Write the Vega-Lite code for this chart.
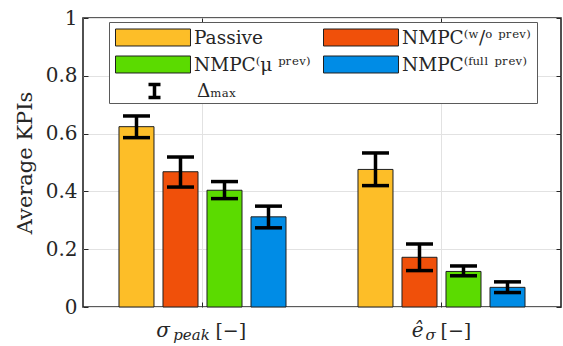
{
  "$schema": "https://vega.github.io/schema/vega-lite/v6.json",
  "width": 478,
  "height": 289,
  "autosize": {"type": "none"},
  "padding": {"left": 83, "top": 18, "right": 2, "bottom": 39},
  "config": {
    "font": "DejaVu Serif",
    "view": {"stroke": "#262626", "strokeWidth": 1.6},
    "axis": {
      "labelFont": "DejaVu Serif",
      "titleFont": "DejaVu Serif",
      "labelColor": "#262626",
      "titleColor": "#262626",
      "tickColor": "#262626",
      "domain": false,
      "gridColor": "#e2e2e2",
      "gridWidth": 1
    },
    "legend": {
      "labelFont": "DejaVu Serif",
      "titleFont": "DejaVu Serif",
      "labelColor": "#262626"
    }
  },
  "datasets": {
    "kpi": [
      {"metric": "sp", "series": "Passive", "value": 0.624, "lo": 0.586, "hi": 0.661},
      {"metric": "sp", "series": "wo", "value": 0.468, "lo": 0.415, "hi": 0.519},
      {"metric": "sp", "series": "mu", "value": 0.404, "lo": 0.375, "hi": 0.434},
      {"metric": "sp", "series": "full", "value": 0.312, "lo": 0.274, "hi": 0.349},
      {"metric": "es", "series": "Passive", "value": 0.476, "lo": 0.42, "hi": 0.533},
      {"metric": "es", "series": "wo", "value": 0.172, "lo": 0.126, "hi": 0.218},
      {"metric": "es", "series": "mu", "value": 0.123, "lo": 0.108, "hi": 0.142},
      {"metric": "es", "series": "full", "value": 0.068, "lo": 0.05, "hi": 0.087}
    ]
  },
  "data": {"name": "kpi"},
  "layer": [
    {
      "mark": {"type": "bar", "stroke": "#1f1f1f", "strokeWidth": 1},
      "encoding": {
        "x": {
          "field": "metric", "type": "nominal", "sort": ["sp", "es"],
          "scale": {"paddingInner": 0, "paddingOuter": 0},
          "axis": {
            "orient": "bottom", "title": null, "ticks": false, "grid": true, "bandPosition": 0.5,
            "labelAngle": 0, "labelExpr": "datum.value === 'sp' ? 'σ\u2800' : 'ê'",
            "labelFontStyle": "italic", "labelFontSize": 20, "labelBaseline": "alphabetic",
            "labelAlign": "right", "labelOffset": -18, "labelPadding": 29
          }
        },
        "xOffset": {
          "field": "series", "type": "nominal", "sort": ["Passive", "wo", "mu", "full"],
          "scale": {"paddingInner": 0.2045, "paddingOuter": 0.818}
        },
        "y": {
          "field": "value", "type": "quantitative",
          "scale": {"domain": [0, 1], "nice": false},
          "axis": {
            "title": "Average KPIs", "titleFontSize": 21, "titleFontWeight": "normal", "titlePadding": 10,
            "values": [0, 0.2, 0.4, 0.6, 0.8, 1], "format": "~g",
            "labelFontSize": 20, "tickSize": -5, "labelPadding": 11, "grid": true
          }
        },
        "fill": {
          "field": "series", "type": "nominal",
          "scale": {
            "domain": ["Passive", "wo", "mu", "full"],
            "range": ["#fdbe28", "#f0500a", "#5bdb00", "#008ce6"]
          },
          "legend": {
            "orient": "none", "legendX": 26, "legendY": 4, "columns": 2, "direction": "horizontal",
            "title": "\u00a0", "titleOrient": "bottom", "titleFontSize": 19, "titlePadding": 3,
            "labelExpr": "datum.value === 'wo' ? 'NMPC⁽ʷ/ᵒ ᵖʳᵉᵛ⁾' : datum.value === 'mu' ? 'NMPC⁽μ ᵖʳᵉᵛ⁾' : datum.value === 'full' ? 'NMPC⁽ᶠᵘˡˡ ᵖʳᵉᵛ⁾' : 'Passive'",
            "labelFontSize": 18.5,
            "symbolType": "M-1,-0.944H7.333V0.944H-1Z", "symbolSize": 324,
            "symbolStrokeColor": "#1f1f1f", "symbolStrokeWidth": 1,
            "labelOffset": 60, "columnPadding": 10, "rowPadding": 6, "padding": 6,
            "strokeColor": "#5a5a5a", "fillColor": "white"
          }
        }
      }
    },
    {
      "mark": {"type": "rule", "color": "#000000", "strokeWidth": 3.5},
      "encoding": {
        "x": {
          "field": "metric", "type": "nominal", "sort": ["sp", "es"],
          "axis": {
            "orient": "bottom", "title": null, "ticks": false, "grid": false,
            "labelAngle": 0, "labelExpr": "datum.value === 'sp' ? 'peak' : 'σ'",
            "labelFontStyle": "italic", "labelFontSize": 15, "labelBaseline": "alphabetic",
            "labelAlign": "center", "labelOffset": -11, "labelPadding": 32
          }
        },
        "xOffset": {"field": "series", "type": "nominal", "sort": ["Passive", "wo", "mu", "full"]},
        "y": {
          "field": "lo", "type": "quantitative",
          "axis": {"orient": "right", "title": null, "labels": false, "grid": false, "tickSize": -5, "values": [0, 0.2, 0.4, 0.6, 0.8, 1]}
        },
        "y2": {"field": "hi"},
        "stroke": {
          "datum": "dmax", "type": "nominal",
          "scale": {"domain": ["dmax"], "range": ["#000000"]},
          "legend": {
            "orient": "none", "legendX": 26, "legendY": 56, "title": null,
            "labelExpr": "'Δₘₐₓ'", "labelFontSize": 18.5,
            "symbolType": "M2.5,-0.722H3.833M3.167,-0.722V0.722M2.5,0.722H3.833", "symbolSize": 324,
            "symbolStrokeWidth": 3.5,
            "labelOffset": 60, "padding": 6
          }
        }
      }
    },
    {
      "mark": {"type": "tick", "color": "#000000", "opacity": 1, "thickness": 3.5, "size": 27},
      "encoding": {
        "x": {
          "field": "metric", "type": "nominal", "sort": ["sp", "es"],
          "axis": {
            "orient": "bottom", "title": null, "ticks": true, "tickSize": -5, "bandPosition": 0.5, "grid": false,
            "labelAngle": 0, "labelExpr": "datum.value === 'sp' ? '\u2800[−]' : '[−]'",
            "labelFontSize": 19, "labelBaseline": "alphabetic",
            "labelAlign": "left", "labelOffset": -1, "labelPadding": 34
          }
        },
        "xOffset": {"field": "series", "type": "nominal", "sort": ["Passive", "wo", "mu", "full"]},
        "y": {"field": "lo", "type": "quantitative", "axis": null}
      }
    },
    {
      "mark": {"type": "tick", "color": "#000000", "opacity": 1, "thickness": 3.5, "size": 27},
      "encoding": {
        "x": {
          "field": "metric", "type": "nominal", "sort": ["sp", "es"],
          "axis": {"orient": "top", "title": null, "labels": false, "ticks": true, "tickSize": -5, "bandPosition": 0.5, "grid": false}
        },
        "xOffset": {"field": "series", "type": "nominal", "sort": ["Passive", "wo", "mu", "full"]},
        "y": {"field": "hi", "type": "quantitative", "axis": null}
      }
    }
  ],
  "resolve": {"axis": {"x": "independent", "y": "independent"}}
}
